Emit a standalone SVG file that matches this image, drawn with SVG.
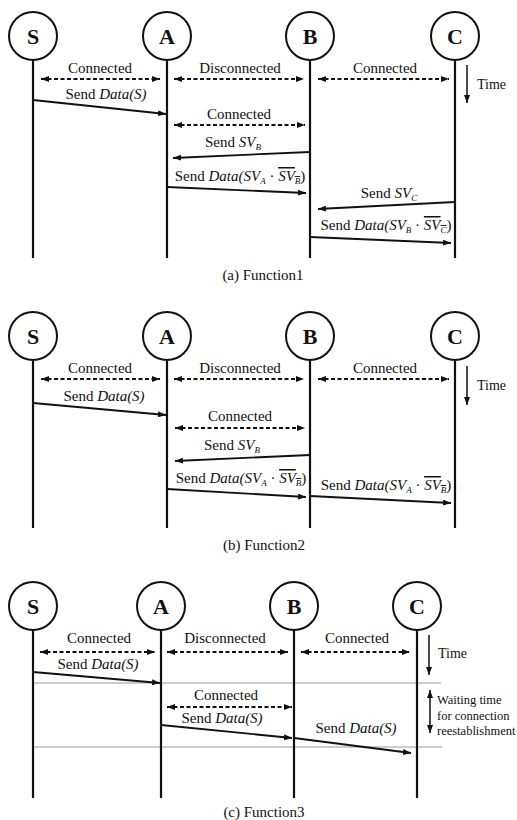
<svg xmlns="http://www.w3.org/2000/svg" width="517" height="820" viewBox="0 0 517 820">
<style>
text{font-family:"Liberation Serif","Times New Roman",serif;fill:#111}
.lbl{font-size:15px;text-anchor:middle}
.cap{font-size:15px;text-anchor:middle}
.it{font-style:italic}
.sub{font-size:9px}
.ov{text-decoration:overline}
.node circle{fill:#fff;stroke:#111;stroke-width:2}
.node text{font-size:22px;font-weight:bold;text-anchor:middle}
.life{stroke:#111;stroke-width:2.2}
.msg{stroke:#111;stroke-width:1.8;fill:none;marker-end:url(#ah)}
.dash{stroke:#111;stroke-width:1.8;fill:none;stroke-dasharray:4 2.5;marker-start:url(#ah);marker-end:url(#ah)}
.time{stroke:#111;stroke-width:1.5;fill:none;marker-end:url(#ah)}
.time2{stroke:#111;stroke-width:1.5;fill:none;marker-start:url(#ah);marker-end:url(#ah)}
.grid{stroke:#999;stroke-width:1}
.small{font-size:12.5px}
</style>
<defs>
<marker id="ah" markerUnits="userSpaceOnUse" markerWidth="8" markerHeight="6" refX="8" refY="3" orient="auto-start-reverse">
<path d="M0,0 L8,3 L0,6 z" fill="#111"/>
</marker>
</defs>

<!-- Panel (a) -->
<g id="a-S" class="node"><line class="life" x1="33" y1="60" x2="33" y2="258"/><circle cx="33" cy="36" r="24"/><text x="33" y="44">S</text></g>
<g id="a-A" class="node"><line class="life" x1="167" y1="60" x2="167" y2="258"/><circle cx="167" cy="36" r="24"/><text x="167" y="44">A</text></g>
<g id="a-B" class="node"><line class="life" x1="310" y1="60" x2="310" y2="258"/><circle cx="310" cy="36" r="24"/><text x="310" y="44">B</text></g>
<g id="a-C" class="node"><line class="life" x1="455" y1="60" x2="455" y2="258"/><circle cx="455" cy="36" r="24"/><text x="455" y="44">C</text></g>
<g id="a-connectors">
<line class="dash" x1="41" y1="79" x2="160" y2="79"/>
<line class="dash" x1="174" y1="79" x2="304" y2="79"/>
<line class="dash" x1="318" y1="79" x2="449" y2="79"/>
<line class="time" x1="467" y1="65" x2="467" y2="103"/>
<line class="msg" x1="33" y1="100" x2="166" y2="114"/>
<line class="dash" x1="174" y1="125" x2="305" y2="125"/>
<line class="msg" x1="310" y1="152" x2="173" y2="158"/>
<line class="msg" x1="167" y1="187" x2="306" y2="193"/>
<line class="msg" x1="455" y1="202" x2="318" y2="209"/>
<line class="msg" x1="310" y1="237" x2="451" y2="243"/>
</g>
<g id="a-labels">
<text class="lbl" x="100" y="73">Connected</text>
<text class="lbl" x="240" y="73">Disconnected</text>
<text class="lbl" x="385" y="73">Connected</text>
<text x="477" y="89" font-size="14">Time</text>
<text class="lbl" x="106" y="99">Send <tspan class="it">Data(S)</tspan></text>
<text class="lbl" x="239" y="119">Connected</text>
<text class="lbl" x="233" y="147">Send <tspan class="it">SV</tspan><tspan class="it sub" dy="3">B</tspan></text>
<text class="lbl" x="240" y="181">Send <tspan class="it">Data(SV</tspan><tspan class="it sub" dy="3">A</tspan><tspan dy="-3"> · </tspan><tspan class="it ov">SV<tspan class="sub" dy="3">B</tspan></tspan><tspan dy="-3">)</tspan></text>
<text class="lbl" x="389" y="198">Send <tspan class="it">SV</tspan><tspan class="it sub" dy="3">C</tspan></text>
<text class="lbl" x="386" y="230">Send <tspan class="it">Data(SV</tspan><tspan class="it sub" dy="3">B</tspan><tspan dy="-3"> · </tspan><tspan class="it ov">SV<tspan class="sub" dy="3">C</tspan></tspan><tspan dy="-3">)</tspan></text>
<text class="cap" x="263" y="280">(a) Function1</text>
</g>

<!-- Panel (b) -->
<g id="b-S" class="node"><line class="life" x1="33" y1="360" x2="33" y2="528"/><circle cx="33" cy="336" r="24"/><text x="33" y="344">S</text></g>
<g id="b-A" class="node"><line class="life" x1="167" y1="360" x2="167" y2="528"/><circle cx="167" cy="336" r="24"/><text x="167" y="344">A</text></g>
<g id="b-B" class="node"><line class="life" x1="310" y1="360" x2="310" y2="528"/><circle cx="310" cy="336" r="24"/><text x="310" y="344">B</text></g>
<g id="b-C" class="node"><line class="life" x1="455" y1="360" x2="455" y2="528"/><circle cx="455" cy="336" r="24"/><text x="455" y="344">C</text></g>
<g id="b-connectors">
<line class="dash" x1="41" y1="379" x2="160" y2="379"/>
<line class="dash" x1="174" y1="379" x2="304" y2="379"/>
<line class="dash" x1="318" y1="379" x2="449" y2="379"/>
<line class="time" x1="467" y1="366" x2="467" y2="405"/>
<line class="msg" x1="33" y1="403" x2="166" y2="415"/>
<line class="dash" x1="175" y1="428" x2="305" y2="428"/>
<line class="msg" x1="310" y1="455" x2="175" y2="461"/>
<line class="msg" x1="167" y1="489" x2="306" y2="497"/>
<line class="msg" x1="310" y1="496" x2="451" y2="503"/>
</g>
<g id="b-labels">
<text class="lbl" x="100" y="373">Connected</text>
<text class="lbl" x="240" y="373">Disconnected</text>
<text class="lbl" x="385" y="373">Connected</text>
<text x="477" y="390" font-size="14">Time</text>
<text class="lbl" x="104" y="401">Send <tspan class="it">Data(S)</tspan></text>
<text class="lbl" x="240" y="421">Connected</text>
<text class="lbl" x="232" y="450">Send <tspan class="it">SV</tspan><tspan class="it sub" dy="3">B</tspan></text>
<text class="lbl" x="241" y="483">Send <tspan class="it">Data(SV</tspan><tspan class="it sub" dy="3">A</tspan><tspan dy="-3"> · </tspan><tspan class="it ov">SV<tspan class="sub" dy="3">B</tspan></tspan><tspan dy="-3">)</tspan></text>
<text class="lbl" x="386" y="490">Send <tspan class="it">Data(SV</tspan><tspan class="it sub" dy="3">A</tspan><tspan dy="-3"> · </tspan><tspan class="it ov">SV<tspan class="sub" dy="3">B</tspan></tspan><tspan dy="-3">)</tspan></text>
<text class="cap" x="264" y="550">(b) Function2</text>
</g>

<!-- Panel (c) -->
<g id="c-grid">
<line class="grid" x1="33" y1="683" x2="441" y2="683"/>
<line class="grid" x1="33" y1="747" x2="442" y2="747"/>
</g>
<g id="c-S" class="node"><line class="life" x1="33" y1="630" x2="33" y2="798"/><circle cx="33" cy="606" r="24"/><text x="33" y="614">S</text></g>
<g id="c-A" class="node"><line class="life" x1="161" y1="630" x2="161" y2="798"/><circle cx="161" cy="606" r="24"/><text x="161" y="614">A</text></g>
<g id="c-B" class="node"><line class="life" x1="294" y1="630" x2="294" y2="798"/><circle cx="294" cy="606" r="24"/><text x="294" y="614">B</text></g>
<g id="c-C" class="node"><line class="life" x1="417" y1="630" x2="417" y2="798"/><circle cx="417" cy="606" r="24"/><text x="417" y="614">C</text></g>
<g id="c-connectors">
<line class="dash" x1="40" y1="652" x2="155" y2="652"/>
<line class="dash" x1="167" y1="652" x2="288" y2="652"/>
<line class="dash" x1="301" y1="652" x2="410" y2="652"/>
<line class="time" x1="429" y1="635" x2="429" y2="675"/>
<line class="msg" x1="33" y1="672" x2="160" y2="683"/>
<line class="dash" x1="167" y1="707" x2="292" y2="707"/>
<line class="msg" x1="161" y1="725" x2="292" y2="738"/>
<line class="msg" x1="294" y1="738" x2="411" y2="753"/>
<line class="time2" x1="430" y1="690" x2="430" y2="733"/>
</g>
<g id="c-labels">
<text class="lbl" x="99" y="643">Connected</text>
<text class="lbl" x="225" y="643">Disconnected</text>
<text class="lbl" x="357" y="643">Connected</text>
<text x="438" y="658" font-size="14">Time</text>
<text class="lbl" x="98" y="669">Send <tspan class="it">Data(S)</tspan></text>
<text class="lbl" x="226" y="700">Connected</text>
<text class="lbl" x="222" y="723">Send <tspan class="it">Data(S)</tspan></text>
<text class="lbl" x="356" y="733">Send <tspan class="it">Data(S)</tspan></text>
<text class="small" x="437" y="704">Waiting time</text>
<text class="small" x="437" y="720">for connection</text>
<text class="small" x="437" y="735">reestablishment</text>
<text class="cap" x="264" y="817">(c) Function3</text>
</g>
</svg>
